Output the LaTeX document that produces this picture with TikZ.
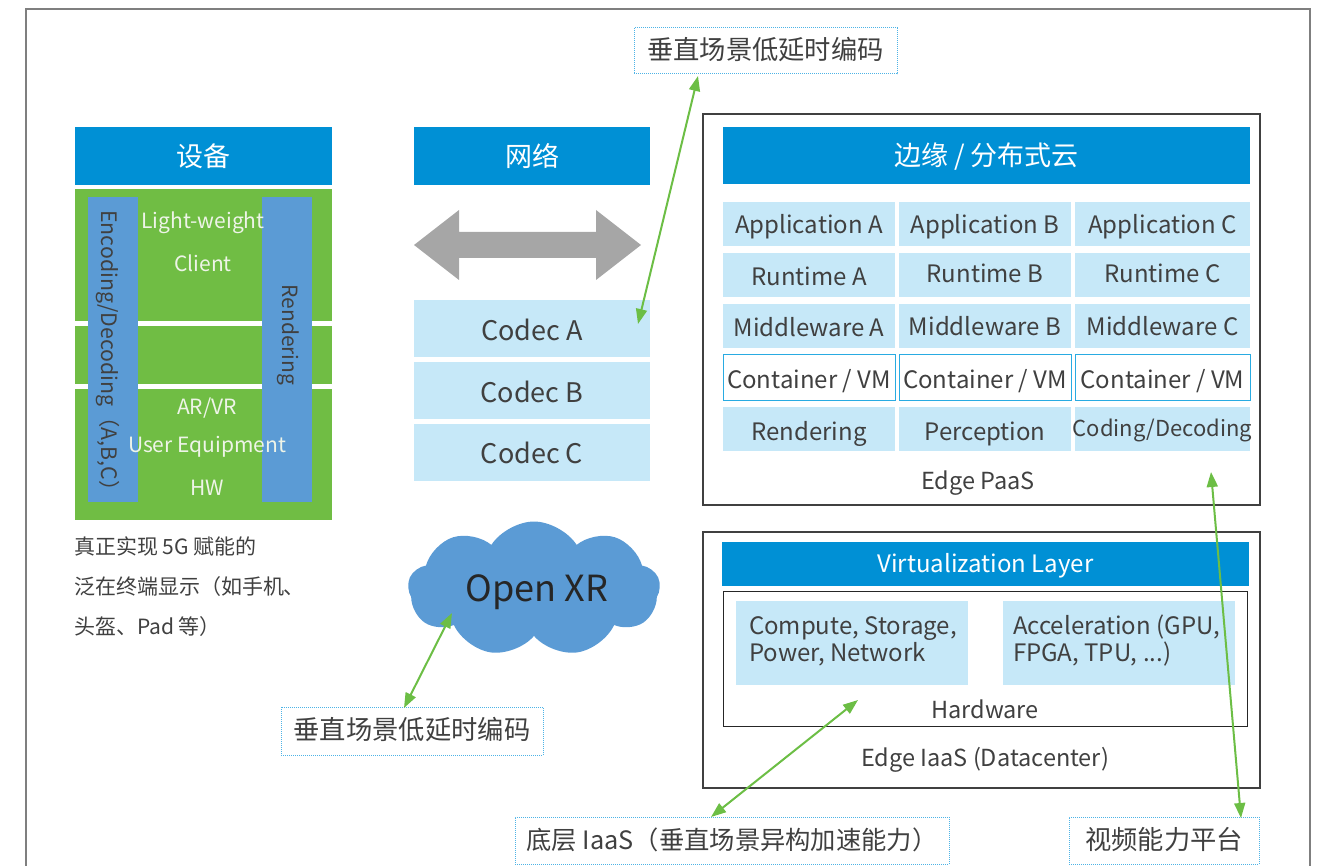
\documentclass[tikz,border=0pt]{standalone}
\usepackage{fontspec}
\setmainfont{Noto Sans CJK SC}
\usetikzlibrary{shapes.symbols,arrows.meta,calc}

\definecolor{hdrblue}{HTML}{0090D5}
\definecolor{devgreen}{HTML}{70BD44}
\definecolor{barblue}{HTML}{5B9BD5}
\definecolor{cellblue}{HTML}{C6E8F8}
\definecolor{txtgray}{HTML}{404040}
\definecolor{arrgray}{HTML}{A6A6A6}
\definecolor{linkgreen}{HTML}{6CBE45}
\definecolor{dotblue}{HTML}{4DB3E6}
\definecolor{frame}{HTML}{7F7F7F}
\definecolor{cntblue}{HTML}{29ABE2}
\definecolor{paletxt}{HTML}{EEF4E8}

\newcommand\fs[2]{\fontsize{#1}{#2}\selectfont}
% box given by its top-left and bottom-right corners; optional argument
% moves the label down by that many points
\newcommand\rbox[8][0]{%
  \node[#3,anchor=north west,minimum width={#6-#4},minimum height={#7-#5}] (#2) at (#4,#5) {};
  \node[#3,fill=none,draw=none,minimum width=0pt,minimum height=0pt,yshift={-(#1)*1pt}] (#2-t) at (#2.center) {#8};}

\tikzset{
  base/.style={inner sep=0pt,outer sep=0pt,text=txtgray},
  header/.style={base,fill=hdrblue,text=white,font=\fs{27}{32}},
  greenpanel/.style={base,fill=devgreen},
  sidebar/.style={base,fill=barblue},
  cell/.style={base,fill=cellblue,font=\fs{24}{28}},
  codec/.style={base,fill=cellblue,font=\fs{27}{32}},
  cntbox/.style={base,fill=white,draw=cntblue,line width=1pt,font=\fs{24}{28}},
  tier/.style={base,draw=txtgray,line width=1.3pt},
  hwbox/.style={base,draw=black!85,line width=1pt},
  note/.style={base,draw=dotblue,line width=1pt,dash pattern=on 1pt off 1pt,font=\fs{26.3}{31}},
  label/.style={base,font=\fs{23.5}{28}},
  green/.style={base,text=paletxt,font=\fs{21}{25}},
  link/.style={draw=linkgreen,line width=2pt,{Triangle[length=15pt,width=11pt]}-{Triangle[length=15pt,width=11pt]}},
}

\begin{document}
\begin{tikzpicture}[x=1pt,y=-1pt]
\useasboundingbox (0,0) rectangle (1325,866);

% outer frame, open at the bottom
\draw[frame,line width=2pt] (26,870) -- (26,9) -- (1310,9) -- (1310,870);

% ---------- device column ----------
\rbox{dev}{header}{75}{127}{332}{185}{设备}
\rbox{gp1}{greenpanel}{75}{189}{332}{321}{}
\rbox{gp2}{greenpanel}{75}{326}{332}{384}{}
\rbox{gp3}{greenpanel}{75}{389}{332}{520}{}
\rbox{encbar}{sidebar}{88}{197}{138}{502}{}
\rbox{rndbar}{sidebar}{262}{197}{312}{502}{}
\node[base,rotate=-90,font=\fs{21.3}{25}] (enctxt) at (108,356) {Encoding/Decoding（A,B,C）};
\node[base,rotate=-90,font=\fs{21}{25}] (rndtxt) at (288,335) {Rendering};
\node[green] (lw) at (203,223) {Light-weight};
\node[green] (cl) at (203,263) {Client};
\node[green] (arvr) at (207,408) {AR/VR};
\node[green] (ue) at (207,447) {User Equipment};
\node[green] (hw) at (207,488) {HW};
\node[base,anchor=north west,align=left,font=\fs{21}{40}] (devnote) at (74,537)
  {真正实现 5G 赋能的\\泛在终端显示（如手机、\\头盔、Pad 等）};

% ---------- network column ----------
\rbox{net}{header}{414}{127}{650}{185}{网络}
\fill[arrgray] (414,245) -- (459,210) -- (459,232) -- (596,232) -- (596,210)
  -- (641,245) -- (596,280) -- (596,258) -- (459,258) -- (459,280) -- cycle;
\rbox[1.5]{codecA}{codec}{414}{300}{650}{357}{Codec A}
\rbox[1]{codecB}{codec}{414}{362}{650}{419}{Codec B}
\rbox{codecC}{codec}{414}{424}{650}{481}{Codec C}

\node[cloud,cloud puffs=9,cloud puff arc=115,aspect=1.9,fill=barblue,
  minimum width=252pt,minimum height=135pt,inner sep=0pt] (xr) at (534,589) {};
\node[base,text=black!85,font=\fs{36}{42}] (xrtxt) at (537,592) {Open XR};

% ---------- edge / distributed cloud ----------
\rbox{paas}{tier}{703}{114}{1260}{505}{}
\rbox[1.5]{edge}{header}{723}{127}{1250}{184}{边缘 / 分布式云}
\rbox[3]{appA}{cell}{723}{202}{895}{246}{Application A}
\rbox[3]{appB}{cell}{899}{202}{1071}{246}{Application B}
\rbox[3]{appC}{cell}{1075}{202}{1250}{246}{Application C}
\rbox[1]{rtA}{cell}{723}{253}{895}{297}{Runtime A}
\rbox[-2]{rtB}{cell}{899}{253}{1071}{297}{Runtime B}
\rbox[-2]{rtC}{cell}{1075}{253}{1250}{297}{Runtime C}
\rbox[1.5]{mwA}{cell}{723}{304}{895}{348}{Middleware A}
\rbox[0]{mwB}{cell}{899}{304}{1071}{348}{Middleware B}
\rbox[0]{mwC}{cell}{1075}{304}{1250}{348}{Middleware C}
\rbox[4]{vmA}{cntbox}{723}{355}{895}{400}{Container / VM}
\rbox[4]{vmB}{cntbox}{899}{355}{1071}{400}{Container / VM}
\rbox[4]{vmC}{cntbox}{1075}{355}{1250}{400}{Container / VM}
\rbox[4.5]{svA}{cell}{723}{407}{895}{451}{Rendering}
\rbox[4.5]{svB}{cell}{899}{407}{1071}{451}{Perception}
\rbox[1.5]{svC}{cell,font=\fs{22}{26}}{1075}{407}{1250}{451}{Coding/Decoding}
\node[label] (paaslbl) at (978,483) {Edge PaaS};

\rbox{iaas}{tier}{703}{532}{1260}{788}{}
\rbox[2]{virt}{header,font=\fs{24}{28}}{722}{542}{1249}{586}{Virtualization Layer}
\rbox{hwb}{hwbox}{723}{591}{1247}{726}{}
\rbox{comp}{cell}{736}{601}{968}{685}{}
\rbox{accel}{cell}{1003}{601}{1235}{685}{}
\node[base,anchor=west,align=left,font=\fs{24}{27}] (comptxt) at ([xshift=13pt,yshift=2pt]comp.west)
  {Compute, Storage,\\Power, Network};
\node[base,anchor=west,align=left,font=\fs{24}{27}] (acceltxt) at ([xshift=10pt,yshift=2pt]accel.west)
  {Acceleration (GPU,\\FPGA, TPU, ...)};
\node[label] (hwlbl) at (985,709) {Hardware};
\node[label] (iaaslbl) at (985,760) {Edge IaaS (Datacenter)};

% ---------- annotations ----------
\rbox[-1.5]{noteTop}{note}{634}{28}{897}{74}{垂直场景低延时编码}
\rbox[-1]{noteXR}{note}{281}{707}{543}{755}{垂直场景低延时编码}
\rbox[-1]{noteIaaS}{note,font=\fs{25.3}{30}}{515}{817}{949}{864}{底层 IaaS（垂直场景异构加速能力）}
\rbox[-1]{noteVid}{note}{1069}{817}{1259}{864}{视频能力平台}

\coordinate (pTop) at (698,76);
\coordinate (pCodec) at (638,324);
\coordinate (pCloud) at (452,613);
\coordinate (pXR) at (404,708);
\coordinate (pHw) at (858,700);
\coordinate (pIaaS) at (711,817);
\coordinate (pPaaS) at (1211,472);
\coordinate (pVid) at (1241,818);

\draw[link] (pTop) -- (pCodec);
\draw[link] (pCloud) -- (pXR);
\draw[link] (pHw) -- (pIaaS);
\draw[link] (pPaaS) -- (pVid);
\end{tikzpicture}
\end{document}
